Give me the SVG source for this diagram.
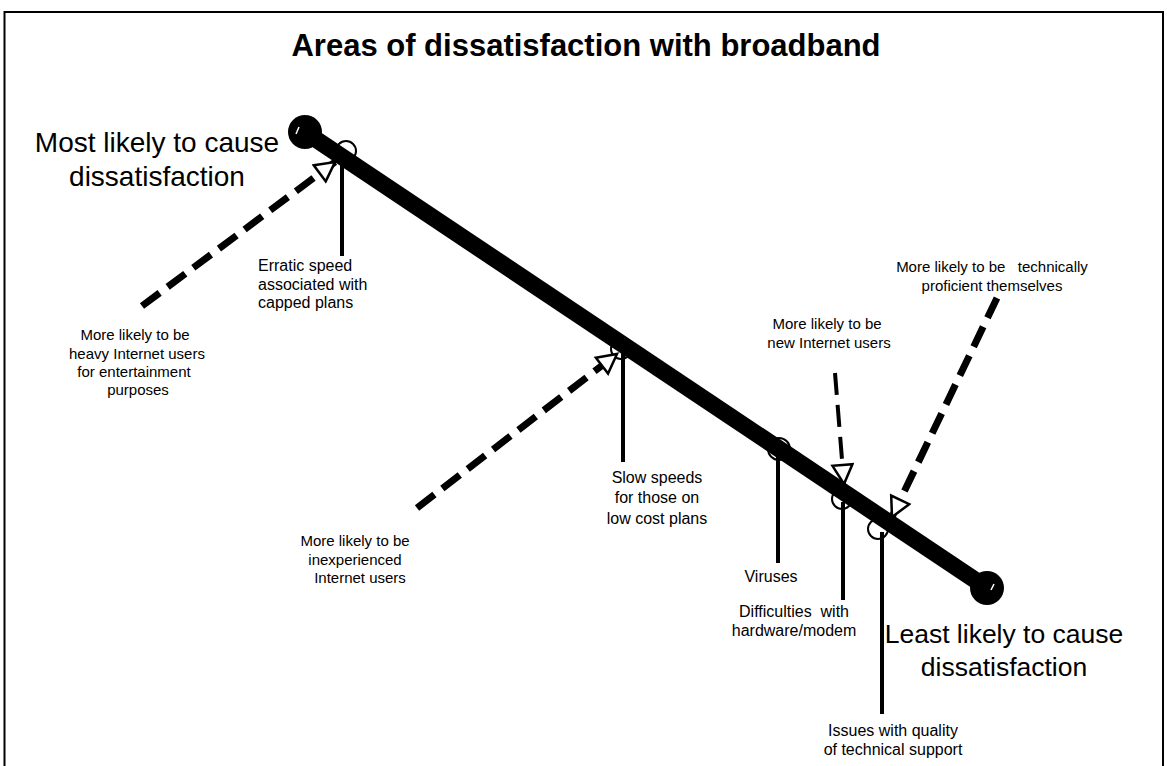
<svg xmlns="http://www.w3.org/2000/svg" width="1167" height="766" viewBox="0 0 1167 766">
  <style>
    text { font-family: "Liberation Sans", Arial, sans-serif; fill: #000; }
    .title { font-size: 31px; font-weight: bold; text-anchor: middle; }
    .big { font-size: 28px; text-anchor: middle; }
    .big2 { font-size: 26.5px; text-anchor: middle; }
    .mid { font-size: 16px; }
    .small { font-size: 15px; text-anchor: middle; }
    .c { text-anchor: middle; }
    .axis { stroke: #000; stroke-width: 17; fill: none; }
    .stem { stroke: #000; stroke-width: 4; fill: none; }
    .ring { stroke: #000; stroke-width: 2; fill: none; }
    .cue { stroke: #000; stroke-width: 7; fill: none; stroke-dasharray: 22 10; marker-end: url(#openHead); }
    .cue-thin { stroke: #000; stroke-width: 4; fill: none; stroke-dasharray: 22 10; marker-end: url(#openHead); }
  </style>
  <defs>
    <marker id="openHead" markerUnits="userSpaceOnUse" markerWidth="24" markerHeight="24" refX="19" refY="10" orient="auto" viewBox="-2 -2 24 24">
      <path d="M0,0 L19,10 L0,20 Z" fill="#fff" stroke="#000" stroke-width="2.5" stroke-linejoin="miter"/>
    </marker>
  </defs>

  <rect width="1167" height="766" fill="#fff"/>
  <!-- frame -->
  <path d="M4.5,767 V12 H1163 V767" fill="none" stroke="#000" stroke-width="2"/>

  <text class="title" x="586" y="56">Areas of dissatisfaction with broadband</text>

  <!-- scale from most to least likely -->
  <g id="scale">
    <line class="axis" x1="305" y1="132" x2="987" y2="588"/>
    <circle cx="305" cy="132" r="17" fill="#000"/>
    <circle cx="987" cy="588" r="17" fill="#000"/>
    <path d="M299,127 l-3,7" stroke="#fff" stroke-width="1.5"/>
    <path d="M994,584 l-3,6" stroke="#fff" stroke-width="1.5"/>
  </g>

  <g id="most-label">
    <text class="big" x="157" y="152">Most likely to cause</text>
    <text class="big" x="157" y="186">dissatisfaction</text>
  </g>
  <g id="least-label">
    <text class="big2" x="1004" y="643">Least likely to cause</text>
    <text class="big2" x="1004" y="676">dissatisfaction</text>
  </g>

  <!-- areas placed along the scale -->
  <g id="erratic-speed">
    <circle class="ring" cx="346" cy="151" r="10"/>
    <line class="stem" x1="342" y1="155" x2="342" y2="256"/>
    <text class="mid" x="258" y="271">Erratic speed</text>
    <text class="mid" x="258" y="290">associated with</text>
    <text class="mid" x="258" y="308">capped plans</text>
  </g>

  <g id="slow-speeds">
    <circle class="ring" cx="621" cy="349" r="10"/>
    <line class="stem" x1="623" y1="352" x2="623" y2="462"/>
    <text class="mid c" x="657" y="483">Slow speeds</text>
    <text class="mid c" x="657" y="503">for those on</text>
    <text class="mid c" x="657" y="524">low cost plans</text>
  </g>

  <g id="viruses">
    <circle class="ring" cx="779" cy="449" r="11"/>
    <line class="stem" x1="778" y1="455" x2="778" y2="563"/>
    <text class="mid c" x="771" y="582">Viruses</text>
  </g>

  <g id="hardware">
    <circle class="ring" cx="842" cy="499" r="10"/>
    <line class="stem" x1="843" y1="502" x2="843" y2="600"/>
    <text class="mid c" x="794" y="617" xml:space="preserve">Difficulties  with</text>
    <text class="mid c" x="794" y="636">hardware/modem</text>
  </g>

  <g id="tech-support">
    <circle class="ring" cx="878" cy="529" r="10"/>
    <line class="stem" x1="882" y1="532" x2="882" y2="714"/>
    <text class="mid c" x="893" y="736">Issues with quality</text>
    <text class="mid c" x="893" y="755">of technical support</text>
  </g>

  <!-- user groups -->
  <g id="heavy-users">
    <text class="small" x="135" y="340">More likely to be</text>
    <text class="small" x="137" y="359">heavy Internet users</text>
    <text class="small" x="134" y="377">for entertainment</text>
    <text class="small" x="138" y="395">purposes</text>
  </g>
  <g id="inexperienced-users">
    <text class="small" x="355" y="546">More likely to be</text>
    <text class="small" x="355" y="565">inexperienced</text>
    <text class="small" x="360" y="583">Internet users</text>
  </g>
  <g id="new-users">
    <text class="small" x="827" y="329">More likely to be</text>
    <text class="small" x="829" y="348">new Internet users</text>
  </g>
  <g id="proficient-users">
    <text class="small" x="992" y="272" xml:space="preserve">More likely to be   technically</text>
    <text class="small" x="992" y="291">proficient themselves</text>
  </g>

  <g id="connectors">
    <line class="cue" x1="142" y1="306" x2="335" y2="162"/>
    <line class="cue" x1="417" y1="508" x2="617" y2="354"/>
    <line class="cue-thin" x1="835" y1="373" x2="844" y2="484"/>
    <line class="cue" x1="997" y1="298" x2="892" y2="517"/>
  </g>
</svg>
